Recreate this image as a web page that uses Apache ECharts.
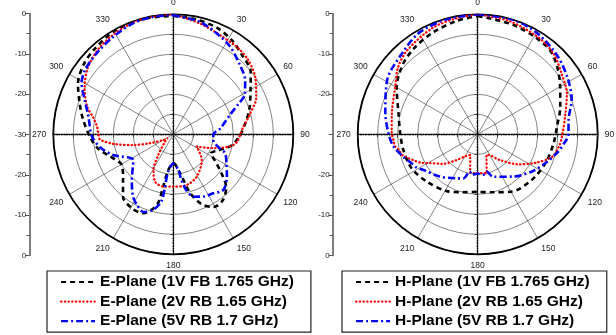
<!DOCTYPE html>
<html>
<head>
<meta charset="utf-8">
<script src="https://cdn.jsdelivr.net/npm/echarts@6/dist/echarts.min.js"></script>
<style>
  html, body { margin: 0; padding: 0; background: #fff; }
  #chart { width: 616px; height: 335px; }
</style>
</head>
<body>
<div id="chart"></div>
<script>
// Radiation patterns, normalised gain in dB, sampled as [angle (deg), gain (dB)].
const ePlaneNames = ['E-Plane (1V FB 1.765 GHz)', 'E-Plane (2V RB 1.65 GHz)', 'E-Plane (5V RB 1.7 GHz)'];
const hPlaneNames = ['H-Plane (1V FB 1.765 GHz)', 'H-Plane (2V RB 1.65 GHz)', 'H-Plane (5V RB 1.7 GHz)'];

// Labels of the side gain scales, bottom to top
const leftGainTicks = ['0', '-10', '-20', '-30', '-20', '-10', '0'];
const rightGainTicks = ['0', '-10', '-20', '', '-20', '-10', '0'];

const eFB1765 = [[0,-0.4],[11,-0.7],[22,-1.2],[32,-2.3],[41,-3.8],[51,-5.1],[60,-7.7],[72,-10],[83,-12.1],[92,-13.5],
  [102,-15.5],[111,-18.5],[117,-19.5],[122,-17.8],[129,-14.5],[135,-11.3],[143,-9.4],[151,-9.2],[158,-11.2],[164,-14.7],
  [170,-20.1],[180,-22.8],[188,-21],[191,-16.7],[193,-11.9],[201,-8.9],[209,-8.8],[219,-10],[228,-13.1],[239,-15],
  [251,-13.2],[259,-10.9],[268,-9.2],[279,-7.2],[288,-5.4],[298,-3],[308,-1.6],[317,-1.0],[330,-0.3],[345,-0.2],[360,-0.4]];

const eRB165 = [[0,0],[13.5,-1.5],[25,-2.6],[36,-3],[45,-3.6],[55,-5],[66,-7.3],[75,-10.1],[84,-12.4],[97,-14],
  [102,-15.5],[109,-19.4],[118,-23.4],[132,-20.4],[151,-17.9],[165,-16.9],[180,-16.9],[191,-16.7],[201,-17.3],[209,-19.8],
  [216,-23.6],[228,-27.2],[234,-28.3],[240,-27.1],[249,-23.8],[255,-19.6],[261,-14.8],[266,-11.6],[270,-11.3],[276,-10.8],
  [282,-9.5],[288,-7.3],[298,-4.9],[308,-2.9],[320,-1.5],[333,-0.7],[347,0],[360,0]];

const eRB17 = [[0,-0.2],[13,-1.1],[23,-2.5],[33,-3.9],[44,-6],[53,-7.5],[61,-9.6],[65,-12],[71,-15],[83,-18.2],
  [90,-20],[98,-19.9],[107,-17.8],[110,-16.2],[119,-14.8],[128,-13],[138,-11.3],[146,-12.2],[154,-12.7],[162,-13.6],
  [167,-15.7],[170,-18.4],[172,-21],[180,-22.7],[188,-20.5],[189,-16.5],[190,-13.1],[195,-10.4],[201,-9.2],[207,-10.1],
  [213,-11.5],[222,-14.5],[237,-18.1],[251,-14.1],[260,-11.4],[269,-9.6],[282,-8.3],[291,-6.3],[299,-3.8],[306,-2.7],
  [317,-2.1],[328,-1.4],[340,-0.5],[350,-0.2],[360,-0.2]];

const hFB1765 = [[0,-0.4],[17.5,-1.2],[31,-1.8],[41,-2.3],[50,-4],[60,-6.2],[72,-8.3],[84.5,-10.1],[97,-10.9],[113,-11.6],
  [130,-12.3],[149,-13.3],[165,-15],[180,-15.6],[195,-15],[209,-13.8],[227.5,-12.6],[243,-11.4],[258,-11],[271,-10.6],
  [285,-9.5],[300,-6.6],[313,-4.4],[324,-3.2],[336,-2.2],[349,-1.2],[360,-0.4]];

const hRB165 = [[0,0],[15.5,-0.6],[32,-1.4],[43,-2.3],[54,-4.1],[65.5,-5.5],[77,-7.5],[91,-8.9],[99,-9.5],[107,-10.6],
  [116,-13.8],[126,-17.2],[140,-21.7],[154,-24.3],[157,-24.4],[167,-20],[180,-20.3],[191,-20.2],[200,-24.5],[210,-23.6],
  [220,-21.5],[230,-18.5],[239,-16],[244,-13.9],[248,-12.7],[254,-10.6],[259,-9.8],[262,-9.1],[266,-8.9],[271,-8.5],
  [284,-7.9],[300,-6.2],[310,-4],[320,-2.6],[337,-1.1],[350,-0.5],[360,0]];

const hRB17 = [[0,0],[17,0],[31,-0.7],[46,-2.1],[59,-3.6],[70,-5],[81,-7],[90,-7.3],[96,-8.3],[103,-9.6],
  [113,-11.6],[124,-13.5],[140,-16.2],[160,-18.7],[166.5,-20.4],[172,-19.8],[180,-20.2],[188,-19.8],[192,-20.5],[198,-18.4],
  [205.5,-17.8],[222,-15.8],[237,-13.7],[242,-12.5],[246,-12],[253,-10.6],[262,-8.7],[270.6,-7.7],[283,-6.3],[301,-3.6],
  [317,-2.3],[330,-0.7],[345,-0.2],[360,0]];

const FONT = '"Liberation Sans", Arial, Helvetica, sans-serif';

const styles = [
  { color: '#000000', width: 2.6, type: [5, 4], cap: 'butt' },        // dashed
  { color: '#ff0000', width: 2.3, type: [0.4, 3.3], cap: 'round' },   // dotted
  { color: '#0000ff', width: 2.6, type: [7, 3, 2, 3], cap: 'butt' }   // dash-dot
];

function toPolar(points) {
  return points.map(p => [p[1], p[0]]);
}

function patternSeries(name, points, polarIndex, style) {
  return {
    name: name,
    type: 'line',
    coordinateSystem: 'polar',
    polarIndex: polarIndex,
    data: toPolar(points),
    symbol: 'none',
    smooth: 0.3,
    lineStyle: { color: style.color, width: style.width, type: style.type, cap: style.cap },
    itemStyle: { color: style.color },
    z: 5
  };
}

const centers = [[173.3, 134.3], [477.7, 134.3]];
const R = 120;

function angleAxis(i) {
  return {
    polarIndex: i, type: 'value', min: 0, max: 360, interval: 30,
    startAngle: 90, clockwise: true,
    axisLine: { lineStyle: { color: '#000', width: 1.8 } },
    axisTick: { show: false },
    axisLabel: { margin: 7, fontSize: 8.5, color: '#222', fontFamily: FONT },
    splitLine: { lineStyle: { color: '#333', width: 0.6 } }
  };
}
function radiusAxis(i) {
  return {
    polarIndex: i, type: 'value', min: -30, max: 0, interval: 5,
    axisLine: { show: false }, axisTick: { show: false }, axisLabel: { show: false },
    splitLine: { lineStyle: { color: '#333', width: 0.6 } }
  };
}

// Dotted cross-hair through each pattern centre
function crossAxis(gridIndex) {
  return {
    gridIndex: gridIndex, type: 'value', min: -30, max: 30, interval: 5,
    axisLine: { onZero: true, lineStyle: { type: 'dotted', color: '#000', width: 1.3 } },
    axisTick: { show: true, length: 3, lineStyle: { color: '#222', width: 0.8 } },
    minorTick: { show: true, splitNumber: 5, length: 1.5, lineStyle: { color: '#444', width: 0.6 } },
    axisLabel: { show: false }, splitLine: { show: false }
  };
}

// Side gain scale
function gainAxis(gridIndex, labels) {
  return {
    gridIndex: gridIndex, type: 'value', min: -30, max: 30, interval: 10, position: 'left',
    axisLine: { show: true, onZero: false, lineStyle: { color: '#555', width: 1.5 } },
    axisTick: { show: true, length: 4, lineStyle: { color: '#555', width: 1 } },
    minorTick: { show: true, splitNumber: 2, length: 3, lineStyle: { color: '#555', width: 1 } },
    axisLabel: {
      margin: 3, fontSize: 8, color: '#222', fontFamily: FONT,
      formatter: v => labels[Math.round((v + 30) / 10)]
    },
    splitLine: { show: false }
  };
}

function legend(names, left) {
  return {
    data: names, orient: 'vertical', left: left, top: 271,
    padding: [3, 17, 3, 13], itemGap: 3.6, itemWidth: 34, itemHeight: 14,
    borderColor: '#222', borderWidth: 1.2, borderRadius: 0,
    selectedMode: false,
    itemStyle: { opacity: 0 },
    lineStyle: { width: 2.2 },
    textStyle: { fontSize: 15.5, fontWeight: 'bold', color: '#000', fontFamily: FONT }
  };
}

const chart = echarts.init(document.getElementById('chart'), null, { renderer: 'canvas' });
chart.setOption({
  animation: false,
  backgroundColor: '#fff',
  polar: [
    { center: centers[0], radius: R },
    { center: centers[1], radius: R }
  ],
  angleAxis: [angleAxis(0), angleAxis(1)],
  radiusAxis: [radiusAxis(0), radiusAxis(1)],
  grid: [
    { left: centers[0][0] - R, top: centers[0][1] - R, width: 2 * R, height: 2 * R },
    { left: centers[1][0] - R, top: centers[1][1] - R, width: 2 * R, height: 2 * R },
    { left: 29.3, top: 13.5, width: 1, height: 242 },
    { left: 332.7, top: 13.5, width: 1, height: 242 }
  ],
  xAxis: [
    crossAxis(0), crossAxis(1),
    { gridIndex: 2, type: 'value', show: false },
    { gridIndex: 3, type: 'value', show: false }
  ],
  yAxis: [
    crossAxis(0), crossAxis(1),
    gainAxis(2, leftGainTicks),
    gainAxis(3, rightGainTicks)
  ],
  legend: [legend(ePlaneNames, 47), legend(hPlaneNames, 342)],
  series: [
    patternSeries(ePlaneNames[0], eFB1765, 0, styles[0]),
    patternSeries(ePlaneNames[1], eRB165, 0, styles[1]),
    patternSeries(ePlaneNames[2], eRB17, 0, styles[2]),
    patternSeries(hPlaneNames[0], hFB1765, 1, styles[0]),
    patternSeries(hPlaneNames[1], hRB165, 1, styles[1]),
    patternSeries(hPlaneNames[2], hRB17, 1, styles[2])
  ]
});
</script>
</body>
</html>
